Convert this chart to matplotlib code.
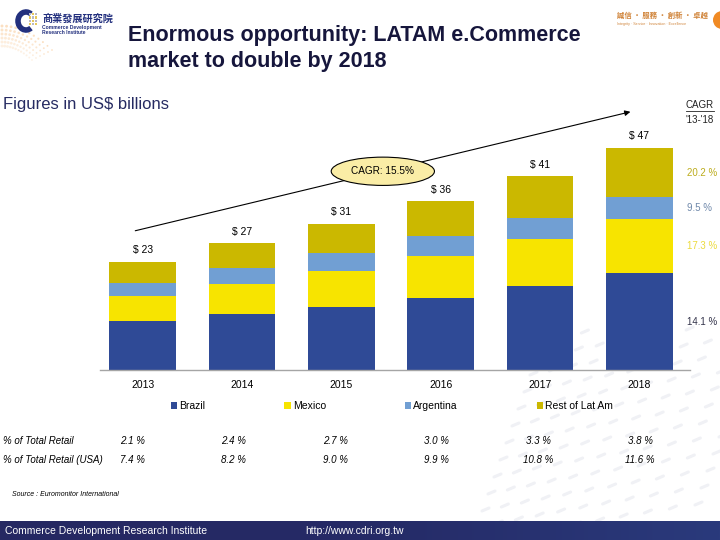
import numpy as np
import matplotlib
matplotlib.use('Agg')
import matplotlib.pyplot as plt
from matplotlib.patches import Rectangle, Arc, Circle
from matplotlib.lines import Line2D

plt.rcParams['font.family'] = ['Liberation Sans', 'Noto Sans CJK TC', 'DejaVu Sans']

# data (US$ billions)
years = ['2013', '2014', '2015', '2016', '2017', '2018']
brazil = [10.4, 11.9, 13.4, 15.2, 17.7, 20.5]
mexico = [5.2, 6.4, 7.6, 9.0, 10.1, 11.5]
argentina = [2.8, 3.3, 3.7, 4.2, 4.5, 4.6]
rest_latam = [4.5, 5.2, 6.2, 7.3, 8.7, 10.4]
total_labels = ['$ 23', '$ 27', '$ 31', '$ 36', '$ 41', '$ 47']
total_values = [23, 27, 31, 36, 41, 47]
series_names = ['Brazil', 'Mexico', 'Argentina', 'Rest of Lat Am']
cagr_labels = ['14.1 %', '17.3 %', '9.5 %', '20.2 %']
overall_cagr = 'CAGR: 15.5%'
pct_total_retail = ['2.1 %', '2.4 %', '2.7 %', '3.0 %', '3.3 %', '3.8 %']
pct_total_retail_usa = ['7.4 %', '8.2 %', '9.0 %', '9.9 %', '10.8 %', '11.6 %']

colors = ['#2f4a96', '#f7e400', '#719fd3', '#cbb800']
cagr_colors = ['#33334a', '#ecdb3c', '#6f88aa', '#bcac1c']
navy = '#262b62'

W, H = 720, 540


def fx(px):
    return px / W


def fy(py):
    return 1 - py / H


fig = plt.figure(figsize=(7.2, 5.4), dpi=100)
fig.patch.set_facecolor('white')

# background decoration: faint dashes bottom right
deco = fig.add_axes([0, 0, 1, 1], zorder=-5)
deco.set_xlim(0, W)
deco.set_ylim(H, 0)
deco.axis('off')
for r in range(14):
    for c in range(14):
        x0 = 470 + c * 19 + r * 6 + (c * c) * 0.35
        y0 = 545 - r * 17 - c * 4
        if y0 < 330 or x0 > 730:
            continue
        deco.plot([x0, x0 + 7], [y0, y0 - 3], color='#f0f1f5', lw=2.2,
                  solid_capstyle='round')

# orange swoosh top left
for k in range(6):
    t = np.linspace(0, 1, 12)
    xs = 2 + t * (50 - k * 4)
    ys = 26 + k * 4 + t * t * (24 - k * 2)
    deco.scatter(xs, ys, s=1.5 + (1 - t) * 3, color='#f5a550',
                 alpha=0.35 - k * 0.04, lw=0)

# CDRI logo
deco.add_patch(Arc((26, 21), 16, 18, theta1=55, theta2=305, lw=4, color='#23307e'))
for i in range(4):
    for j in range(3):
        deco.add_patch(Rectangle((29 + j * 3.0, 13 + i * 3.4), 2.0, 2.2,
                                 color='#e7c85a' if (i + j) % 2 else '#b9b9c6', lw=0))
fig.text(fx(42), fy(19), '商業發展研究院', fontsize=7.3, fontweight='bold',
         color='#23307e', family=['Noto Sans CJK TC'], va='center')
fig.text(fx(42), fy(28), 'Commerce Development', fontsize=3.6, color='#23307e',
         fontweight='bold', va='center')
fig.text(fx(42), fy(33), 'Research Institute', fontsize=3.6, color='#23307e',
         fontweight='bold', va='center')

# motto logo top right
fig.text(fx(617), fy(15), '誠信 · 服務 · 創新 · 卓越', fontsize=5.3, color='#d0843a',
         family=['Noto Sans CJK TC'], va='center', fontweight='bold')
fig.text(fx(617), fy(24), 'Integrity · Service · Innovation · Excellence',
         fontsize=2.6, color='#d0843a', va='center')
deco.add_patch(Circle((722, 20), 9, color='#f08a24', lw=0))

# titles
fig.text(fx(128), fy(36), 'Enormous opportunity: LATAM e.Commerce', fontsize=15.5,
         fontweight='bold', color='#16163c', va='center')
fig.text(fx(128), fy(62), 'market to double by 2018', fontsize=15.5,
         fontweight='bold', color='#16163c', va='center')
fig.text(fx(3), fy(104), 'Figures in US$ billions', fontsize=12, color=navy,
         va='center')

# chart
ax = fig.add_axes([fx(100), fy(370), fx(590), 270 / H])
x = np.arange(len(years))
bottom = np.zeros(len(years))
handles = []
stack = [brazil, mexico, argentina, rest_latam]
for vals, col, name in zip(stack, colors, series_names):
    b = ax.bar(x, vals, width=0.67, bottom=bottom, color=col, label=name, lw=0)
    handles.append(b)
    bottom = bottom + np.array(vals)

for i, lab in enumerate(total_labels):
    ax.annotate(lab, (x[i], bottom[i]), xytext=(0, 5), textcoords='offset points',
                ha='center', va='bottom', fontsize=7.5)

ax.set_xlim(-0.43, 5.51)
ax.set_ylim(0, 57.2)
ax.set_xticks(x)
ax.set_xticklabels(years, fontsize=7.5)
ax.tick_params(axis='x', length=0, pad=7)
ax.set_yticks([])
for side in ['top', 'right', 'left']:
    ax.spines[side].set_visible(False)
ax.spines['bottom'].set_color('#a5a5a5')
ax.spines['bottom'].set_linewidth(1)
ax.patch.set_alpha(0)

# overall CAGR arrow with ellipse label
start = (x[0] - 0.075, total_values[0] + 6.5)
end = (x[-1] - 0.09, total_values[-1] + 7.7)
ax.annotate('', xy=end, xytext=start,
            arrowprops=dict(arrowstyle='-|>', lw=0.8, color='black',
                            mutation_scale=8, shrinkA=0, shrinkB=0))
mid = ((start[0] + end[0]) / 2, (start[1] + end[1]) / 2)
ax.text(mid[0], mid[1], overall_cagr, fontsize=7.2, ha='center', va='center',
        bbox=dict(boxstyle='ellipse,pad=0.5', fc='#faeda6', ec='black', lw=0.8))

# per-segment CAGR labels next to 2018 bar
seg_bottom = 0
for vals, lab, col in zip(stack, cagr_labels, cagr_colors):
    ax.text(5.48, seg_bottom + vals[-1] / 2, lab, fontsize=7, color=col,
            ha='left', va='center', clip_on=False)
    seg_bottom += vals[-1]
fig.text(fx(686), fy(105), 'CAGR', fontsize=7, color='#222222', va='center')
fig.add_artist(Line2D([fx(686), fx(714)], [fy(111), fy(111)], lw=0.6, color='#222222'))
fig.text(fx(686), fy(120), "'13-'18", fontsize=7, color='#222222', va='center')

# legend
fig.legend(handles=handles, labels=series_names, loc='center',
           bbox_to_anchor=(fx(392), fy(406)), ncol=4, frameon=False, fontsize=7.5,
           handlelength=0.6, handleheight=0.6, handletextpad=0.2, columnspacing=7.6)

# table rows
row_y = [441, 460]
row_names = ['% of Total Retail', '% of Total Retail (USA)']
for ry, name, vals in zip(row_y, row_names, [pct_total_retail, pct_total_retail_usa]):
    fig.text(fx(3), fy(ry), name, fontsize=7, style='italic', va='center')
    for i, v in enumerate(vals):
        fig.text(fx(132 + i * 101.6), fy(ry), v, fontsize=7, style='italic',
                 ha='center', va='center')

fig.text(fx(12), fy(494), 'Source : Euromonitor International', fontsize=5,
         style='italic', va='center')

# footer band
foot = fig.add_axes([0, 0, 1, 19 / H], zorder=2)
grad = np.linspace(0, 1, 256).reshape(1, -1)
foot.imshow(grad, aspect='auto', cmap=matplotlib.colors.LinearSegmentedColormap.from_list(
    'foot', ['#262862', '#252a66', '#2a3a7c']), extent=(0, 1, 0, 1))
foot.axis('off')
fig.text(fx(5), fy(531), 'Commerce Development Research Institute', fontsize=7.5,
         color='white', va='center', zorder=3)
fig.text(fx(305), fy(531), 'http://www.cdri.org.tw', fontsize=7.5, color='white',
         va='center', zorder=3)

fig.savefig('out.png', dpi=100)
